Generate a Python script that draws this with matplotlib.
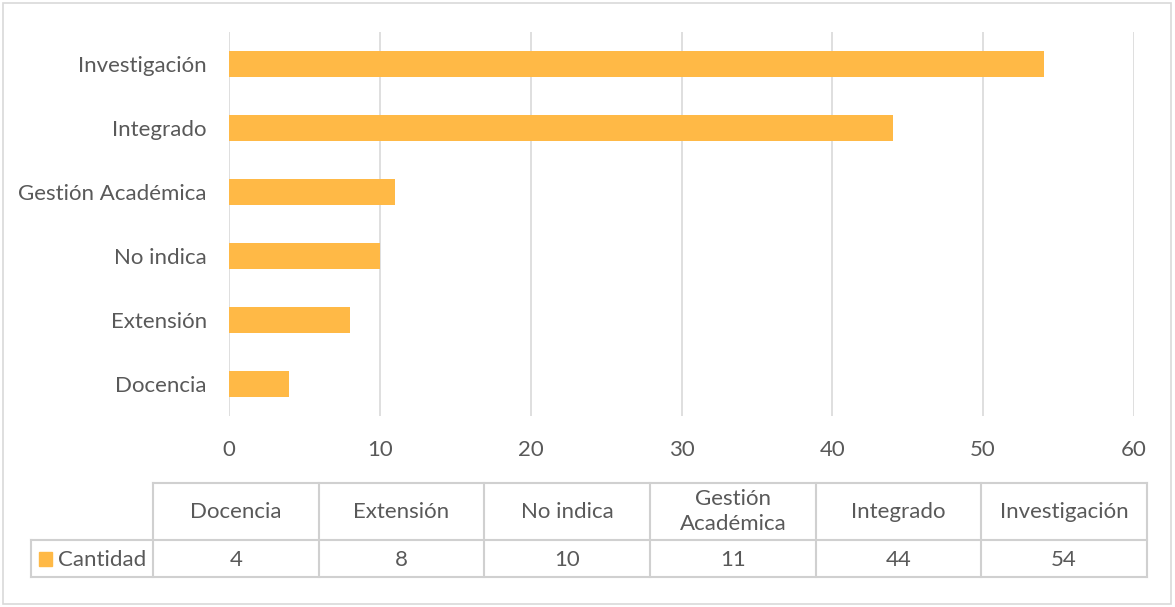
import matplotlib
matplotlib.use("Agg")
import matplotlib.pyplot as plt
from matplotlib.patches import Rectangle

categories = ["Docencia", "Extensión", "No indica", "Gestión Académica", "Integrado", "Investigación"]
table_headers = ["Docencia", "Extensión", "No indica", "Gestión\nAcadémica", "Integrado", "Investigación"]
cantidad = [4, 8, 10, 11, 44, 54]
x_ticks = [0, 10, 20, 30, 40, 50, 60]
series_name = "Cantidad"

BAR = "#FFB946"
TEXT = "#595959"
GRID = "#D9D9D9"
W, H = 1175, 607
FS = 16

plt.rcParams["font.family"] = ["Lato", "DejaVu Sans"]

fig = plt.figure(figsize=(W / 100, H / 100), dpi=100)

# bar chart area
ax = fig.add_axes([229 / W, 1 - 416 / H, (1134 - 229) / W, (416 - 32) / H])
ypos = list(range(len(categories)))
ax.barh(ypos, cantidad, height=0.4, color=BAR, zorder=3)
ax.set_xlim(0, 60)
ax.set_ylim(-0.5, len(categories) - 0.5)
ax.set_xticks(x_ticks)
ax.set_xticklabels([str(t) for t in x_ticks])
ax.set_yticks(ypos)
ax.set_yticklabels(categories)
ax.tick_params(axis="both", length=0, labelsize=FS, colors=TEXT)
ax.tick_params(axis="x", pad=17)
ax.tick_params(axis="y", pad=16)
ax.grid(axis="x", color=GRID, linewidth=1.2, zorder=0)
for s in ax.spines.values():
    s.set_visible(False)

# data table drawn in pixel coordinates on an overlay
ov = fig.add_axes([0, 0, 1, 1], zorder=-1)
ov.set_xlim(0, W)
ov.set_ylim(H, 0)
ov.axis("off")

# outer chart border
ov.add_patch(Rectangle((3, 3), W - 7, H - 6, fill=False, edgecolor=GRID, linewidth=1.2))

LINE = "#D0D0D0"
col_edges = [153 + i * (1147 - 153) / 6 for i in range(7)]
y_top, y_mid, y_bot = 483, 540, 577
left_cell = 31

ov.plot([col_edges[0], col_edges[-1]], [y_top, y_top], color=LINE, lw=1.5)
ov.plot([left_cell, col_edges[-1]], [y_mid, y_mid], color=LINE, lw=1.5)
ov.plot([left_cell, col_edges[-1]], [y_bot, y_bot], color=LINE, lw=1.5)
for x in col_edges:
    ov.plot([x, x], [y_top, y_bot], color=LINE, lw=1.5)
ov.plot([left_cell, left_cell], [y_mid, y_bot], color=LINE, lw=1.5)

for i, (hdr, val) in enumerate(zip(table_headers, cantidad)):
    cx = (col_edges[i] + col_edges[i + 1]) / 2
    ov.text(cx, (y_top + y_mid) / 2, hdr, ha="center", va="center",
            fontsize=FS, color=TEXT, linespacing=1.3)
    ov.text(cx, (y_mid + y_bot) / 2 + 1, str(val), ha="center", va="center",
            fontsize=FS, color=TEXT)

ov.add_patch(Rectangle((39, 552), 13, 14, color=BAR))
ov.text(58, (y_mid + y_bot) / 2 + 1, series_name, ha="left", va="center",
        fontsize=FS, color=TEXT)

fig.savefig("out.png", dpi=100)
